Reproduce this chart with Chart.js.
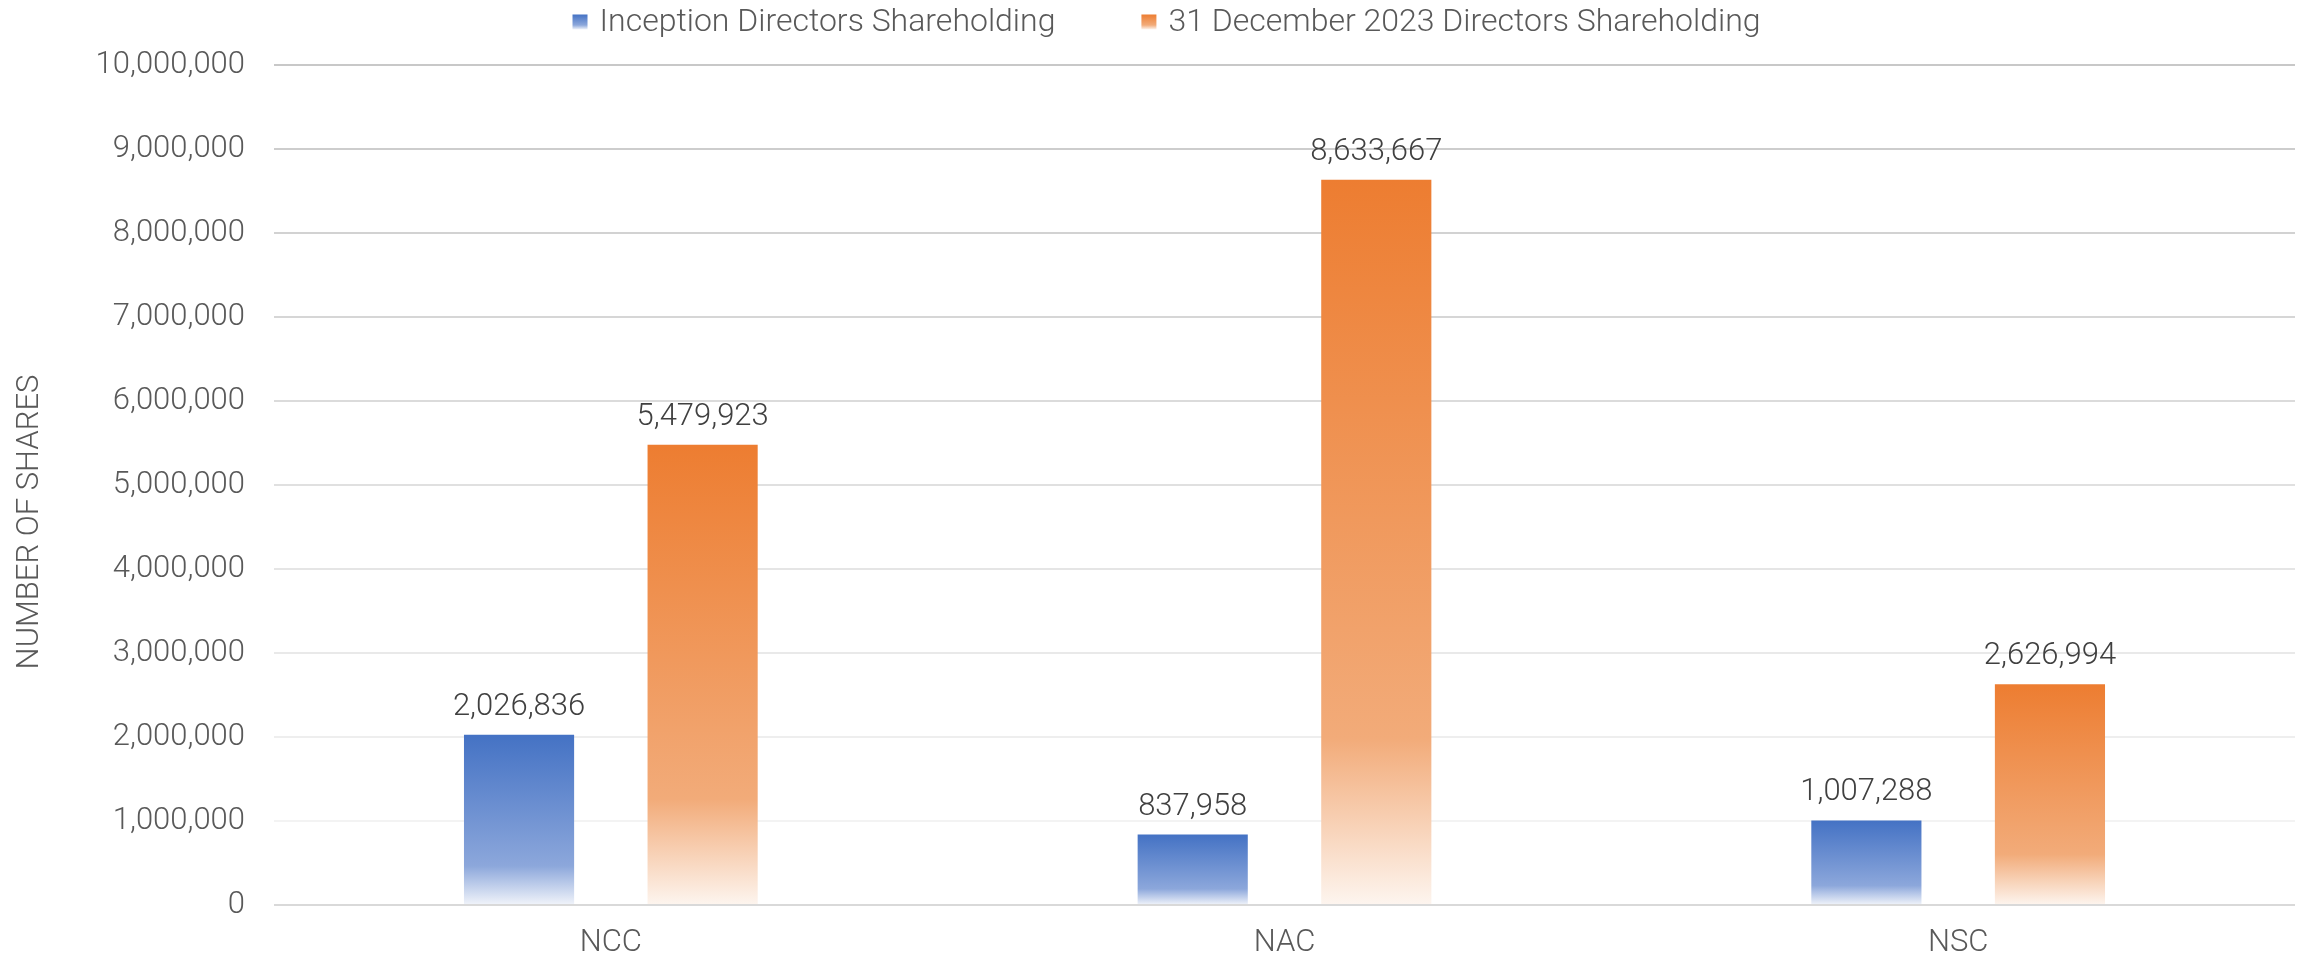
<!DOCTYPE html>
<html>
<head>
<meta charset="utf-8">
<script src="https://cdn.jsdelivr.net/npm/chart.js@4"></script>
<style>
  html, body { margin: 0; padding: 0; background: #fff; }
  #wrap { width: 2305px; height: 958px; }
</style>
</head>
<body>
<div id="wrap"><canvas id="c" width="2305" height="958"></canvas></div>
<script>
// chart values
const categories = ['NCC', 'NAC', 'NSC'];
const seriesNames = ['Inception Directors Shareholding', '31 December 2023 Directors Shareholding'];
const inception = [2026836, 837958, 1007288];
const dec2023 = [5479923, 8633667, 2626994];
const yTicks = [0, 1000000, 2000000, 3000000, 4000000, 5000000, 6000000, 7000000, 8000000, 9000000, 10000000];
const yTitle = 'NUMBER OF SHARES';

const FONT = 'Roboto';
const fmt = v => v.toLocaleString('en-US');

// each bar fades to white near its base
function barFill(top, mid, bottom) {
  return ctx => {
    const chart = ctx.chart;
    if (!chart.chartArea || ctx.type !== 'data') return top;
    const y = chart.scales.y;
    const y0 = y.getPixelForValue(ctx.raw);
    const y1 = y.getPixelForValue(0);
    const g = chart.ctx.createLinearGradient(0, y0, 0, y1);
    g.addColorStop(0, top);
    g.addColorStop(0.77, mid);
    g.addColorStop(1, bottom);
    return g;
  };
}

const fills = [
  ['#4472C4', '#8CA7DB', '#F1F4FA'],
  ['#ED7D31', '#F2AB79', '#FDF5EF']
];

const valueLabels = {
  id: 'valueLabels',
  afterDatasetsDraw(chart) {
    const c = chart.ctx;
    c.save();
    c.font = `300 31px ${FONT}`;
    c.fillStyle = '#404040';
    c.textAlign = 'center';
    c.textBaseline = 'alphabetic';
    chart.data.datasets.forEach((ds, i) => {
      chart.getDatasetMeta(i).data.forEach((el, j) => {
        c.fillText(fmt(ds.data[j]), el.x, el.y - 20);
      });
    });
    c.restore();
  }
};

// legend + axis title drawn by hand: wide legend gap, title sits a bit below the axis middle
const extras = {
  id: 'extras',
  afterDraw(chart) {
    const c = chart.ctx;
    c.save();
    c.font = `300 32px ${FONT}`;
    const box = 15, gap = 12, itemGap = 86;
    const widths = seriesNames.map(t => c.measureText(t).width);
    const total = widths.reduce((a, w) => a + box + gap + w, 0) + itemGap;
    let x = chart.width / 2 + 14 - total / 2;
    const yc = 22;
    c.textBaseline = 'middle';
    seriesNames.forEach((t, i) => {
      const g = c.createLinearGradient(0, yc - box / 2, 0, yc + box / 2);
      g.addColorStop(0, fills[i][0]);
      g.addColorStop(0.7, fills[i][1]);
      g.addColorStop(1, fills[i][2]);
      c.fillStyle = g;
      c.fillRect(x, yc - box / 2, box, box);
      x += box + gap;
      c.fillStyle = '#595959';
      c.fillText(t, x, yc + 1);
      x += widths[i] + itemGap;
    });

    c.font = `300 31px ${FONT}`;
    c.translate(30, 522);
    c.rotate(-Math.PI / 2);
    c.textAlign = 'center';
    c.fillText(yTitle, 0, 0);
    c.restore();
  }
};

function gridColor(ctx) {
  const i = ctx.index;
  if (i === 0) return '#d9d9d9';
  const g = Math.round(243 - (i - 1) * (243 - 200) / 9);
  return `rgb(${g},${g},${g})`;
}

new Chart(document.getElementById('c'), {
  type: 'bar',
  data: {
    labels: categories,
    datasets: [
      { label: seriesNames[0], data: inception, backgroundColor: barFill(...fills[0]) },
      { label: seriesNames[1], data: dec2023, backgroundColor: barFill(...fills[1]) }
    ]
  },
  options: {
    responsive: false,
    animation: false,
    devicePixelRatio: 1,
    layout: { padding: { top: 65, right: 10, left: 0, bottom: 0 } },
    datasets: { bar: { categoryPercentage: 0.545, barPercentage: 0.6 } },
    plugins: { legend: { display: false }, tooltip: { enabled: false } },
    scales: {
      x: {
        grid: { display: false },
        border: { display: false },
        ticks: { color: '#595959', font: { family: FONT, size: 31, weight: '300' }, padding: 12 },
        afterFit: s => { s.height = 53; }
      },
      y: {
        min: 0,
        max: 10000000,
        afterBuildTicks: s => { s.ticks = yTicks.map(v => ({ value: v })); },
        grid: { color: gridColor, lineWidth: 2, drawTicks: false },
        border: { display: false },
        ticks: {
          color: '#595959',
          font: { family: FONT, size: 31, weight: '300' },
          padding: 29,
          callback: v => fmt(v)
        },
        afterFit: s => { s.width = 274; }
      }
    }
  },
  plugins: [valueLabels, extras]
});
</script>
</body>
</html>
